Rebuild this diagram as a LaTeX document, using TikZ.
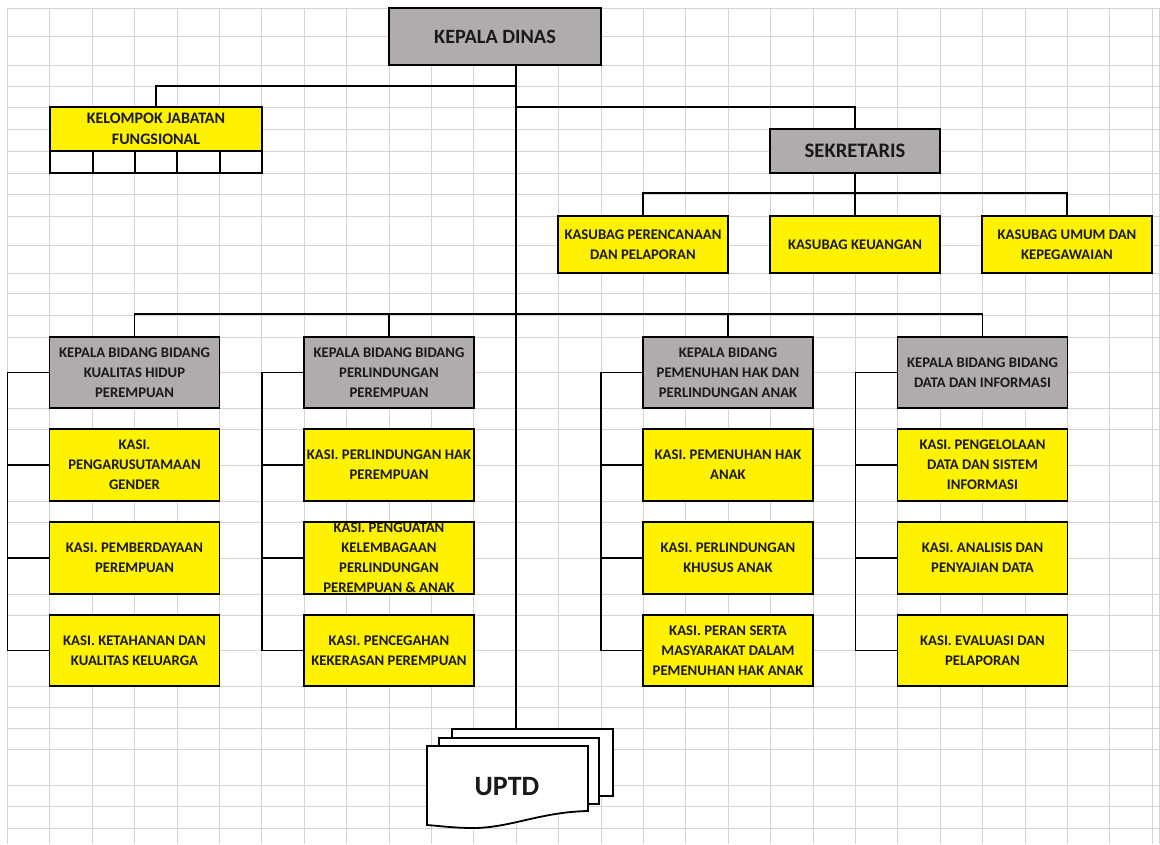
\documentclass[tikz,border=0pt]{standalone}
\usepackage{fontspec}
\setmainfont{Carlito}
\definecolor{gfill}{RGB}{176,172,172}
\definecolor{gridc}{RGB}{212,212,212}
\definecolor{txt}{RGB}{25,25,25}
\begin{document}
\begin{tikzpicture}[x=1pt,y=-1pt,
  box/.style={draw=black, line width=1.8pt, inner sep=1pt, align=center, text=txt,
    font=\bfseries\fontsize{14.7}{20}\selectfont, minimum width=170},
  ybox/.style={box, fill=yellow},
  gbox/.style={box, fill=gfill},
  conn/.style={line width=1.3pt, black},
  spine/.style={line width=2pt, black},
  gridline/.style={gridc, line width=1pt},
  sheet/.style={draw=black, line width=1.8pt, fill=white}]
\useasboundingbox (0,0) rectangle (1160,844);
\fill[white] (0,0) rectangle (1160,844);
% spreadsheet grid
\foreach \k in {0,...,27} \draw[gridline] ({7.5+42.4*\k},8) -- ({7.5+42.4*\k},844);
\draw[gridline] (1159,8) -- (1159,844);
\foreach \y in {8,36,65,86,107,129,151,173,194,216,245,273,293,315,337,372,408,429,465,501,522,558,594,615,650,686,707,728,749,785,806,828}
  \draw[gridline] (7.5,\y) -- (1160,\y);

% top
\node[gbox, minimum width=212, minimum height=57, font=\bfseries\fontsize{20.3}{24}\selectfont] (kd) at (495,36.5) {KEPALA DINAS};
\node[ybox, minimum width=212, minimum height=44, font=\bfseries\fontsize{16}{20.7}\selectfont] (kjf) at (156,129) {KELOMPOK JABATAN\\FUNGSIONAL};
\node[sheet, minimum width=212, minimum height=22] (kjfc) at (156,162) {};
\foreach \x in {93,135,177,220} \draw[conn] (\x,151) -- (\x,173);
\node[gbox, minimum height=44, font=\bfseries\fontsize{20.6}{24}\selectfont] (sek) at (855,151) {SEKRETARIS};

% kasubag
\node[ybox, minimum height=57] (ks1) at (643,244.5) {KASUBAG PERENCANAAN\\DAN PELAPORAN};
\node[ybox, minimum height=57] (ks2) at (855,244.5) {KASUBAG KEUANGAN};
\node[ybox, minimum height=57] (ks3) at (1067,244.5) {KASUBAG UMUM DAN\\KEPEGAWAIAN};

% bidang
\node[gbox, minimum height=71] (b1) at (134.5,372.5) {KEPALA BIDANG BIDANG\\KUALITAS HIDUP\\PEREMPUAN};
\node[gbox, minimum height=71] (b2) at (389,372.5) {KEPALA BIDANG BIDANG\\PERLINDUNGAN\\PEREMPUAN};
\node[gbox, minimum height=71] (b3) at (728,372.5) {KEPALA BIDANG\\PEMENUHAN HAK DAN\\PERLINDUNGAN ANAK};
\node[gbox, minimum height=71] (b4) at (982.5,372.5) {KEPALA BIDANG BIDANG\\DATA DAN INFORMASI};

% kasi column 1
\node[ybox, minimum height=72] (k11) at (134.5,465) {KASI.\\PENGARUSUTAMAAN\\GENDER};
\node[ybox, minimum height=72] (k12) at (134.5,558) {KASI. PEMBERDAYAAN\\PEREMPUAN};
\node[ybox, minimum height=71] (k13) at (134.5,650.5) {KASI. KETAHANAN DAN\\KUALITAS KELUARGA};
% kasi column 2
\node[ybox, minimum height=72] (k21) at (389,465) {KASI. PERLINDUNGAN HAK\\PEREMPUAN};
\node[ybox, minimum height=72] (k22) at (389,558) {};
\begin{scope}
  \clip (305.5,523.5) rectangle (472.5,592.5);
  \node[align=center, text=txt, font=\bfseries\fontsize{14.7}{20}\selectfont] (k22t) at (k22.center) {KASI. PENGUATAN\\KELEMBAGAAN\\PERLINDUNGAN\\PEREMPUAN \& ANAK};
\end{scope}
\node[ybox, minimum height=71] (k23) at (389,650.5) {KASI. PENCEGAHAN\\KEKERASAN PEREMPUAN};
% kasi column 3
\node[ybox, minimum height=72] (k31) at (728,465) {KASI. PEMENUHAN HAK\\ANAK};
\node[ybox, minimum height=72] (k32) at (728,558) {KASI. PERLINDUNGAN\\KHUSUS ANAK};
\node[ybox, minimum height=71] (k33) at (728,650.5) {KASI. PERAN SERTA\\MASYARAKAT DALAM\\PEMENUHAN HAK ANAK};
% kasi column 4
\node[ybox, minimum height=72] (k41) at (982.5,465) {KASI. PENGELOLAAN\\DATA DAN SISTEM\\INFORMASI};
\node[ybox, minimum height=72] (k42) at (982.5,558) {KASI. ANALISIS DAN\\PENYAJIAN DATA};
\node[ybox, minimum height=71] (k43) at (982.5,650.5) {KASI. EVALUASI DAN\\PELAPORAN};

% UPTD
\node[sheet, minimum width=161, minimum height=67] (up3) at (532.5,762.5) {};
\node[sheet, minimum width=160, minimum height=66] (up2) at (519,771) {};
\draw[sheet] (427,746) -- (588,746) -- (588,811) .. controls (540,812) and (510,828) .. (473,828) .. controls (455,828) and (440,826) .. (427,825) -- cycle;
\node[text=txt, font=\bfseries\fontsize{28}{32}\selectfont] (uptd) at (507,787) {UPTD};

% connectors
\coordinate (sp) at (516,0);
\draw[spine] (kd.south -| sp) -- (up3.north -| sp);
\draw[conn] (kjf.north) |- (sp |- 0,86);
\draw[conn] (sek.north) |- (sp |- 0,107);
\draw[conn] (sek.south) -- (ks2.north);
\draw[conn] (ks1.north) -- ++(0,-22) -| (ks3.north);
\draw[conn] (b1.north) -- ++(0,-22) -| (b4.north);
\draw[conn] (b2.north) -- ++(0,-22);
\draw[conn] (b3.north) -- ++(0,-22);

% side brackets
\coordinate (L1) at (7.5,0);
\coordinate (L2) at (262,0);
\coordinate (L3) at (601,0);
\coordinate (L4) at (855.5,0);
\draw[conn] (b1.west) -- (b1.west -| L1) -- (k13.west -| L1) -- (k13.west);
\draw[conn] (k11.west) -- (k11.west -| L1);
\draw[conn] (k12.west) -- (k12.west -| L1);
\draw[conn] (b2.west) -- (b2.west -| L2) -- (k23.west -| L2) -- (k23.west);
\draw[conn] (k21.west) -- (k21.west -| L2);
\draw[conn] (k22.west) -- (k22.west -| L2);
\draw[conn] (b3.west) -- (b3.west -| L3) -- (k33.west -| L3) -- (k33.west);
\draw[conn] (k31.west) -- (k31.west -| L3);
\draw[conn] (k32.west) -- (k32.west -| L3);
\draw[conn] (b4.west) -- (b4.west -| L4) -- (k43.west -| L4) -- (k43.west);
\draw[conn] (k41.west) -- (k41.west -| L4);
\draw[conn] (k42.west) -- (k42.west -| L4);
\end{tikzpicture}
\end{document}
